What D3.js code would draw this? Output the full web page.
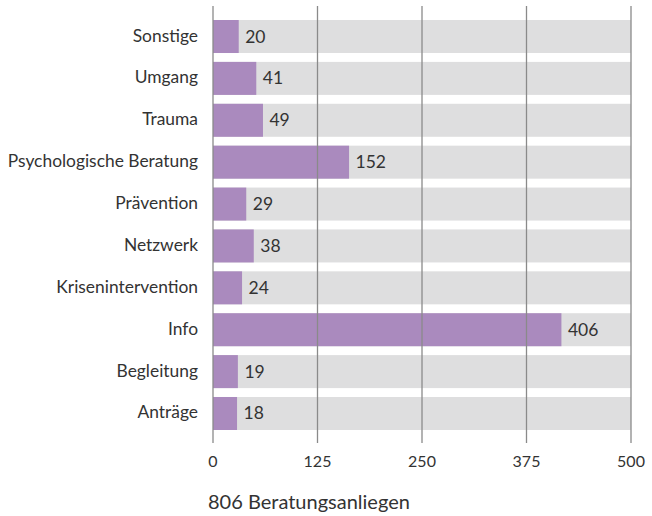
<!DOCTYPE html>
<html>
<head>
<meta charset="utf-8">
<script src="https://cdn.jsdelivr.net/npm/d3@7"></script>
<style>
  body { margin: 0; background: #fff; }
  svg { display: block; font-family: Lato, "Open Sans", sans-serif; }
</style>
</head>
<body>
<svg width="652" height="516"></svg>
<script>
// data
const categories = ["Sonstige", "Umgang", "Trauma", "Psychologische Beratung", "Prävention",
  "Netzwerk", "Krisenintervention", "Info", "Begleitung", "Anträge"]
const values = [20, 41, 49, 152, 29, 38, 24, 406, 19, 18]
const tickValues = [0, 125, 250, 375, 500]
const footnote = "806 Beratungsanliegen"

const svg = d3.select("svg")

const x = d3.scaleLinear()
  .domain([0, 500])
  .range([213, 631])

const y = d3.scaleBand()
  .domain(categories)
  .range([20, 430])
  .paddingInner(0.212)
  .paddingOuter(0)

const barPad = 9 // bars in the original start a little past the zero line

// grey background bars
svg.append("g")
  .selectAll("rect")
  .data(categories)
  .join("rect")
  .attr("x", x(0))
  .attr("y", d => y(d))
  .attr("width", x(500) - x(0))
  .attr("height", y.bandwidth())
  .attr("fill", "#dededf")

// value bars
svg.append("g")
  .selectAll("rect")
  .data(values)
  .join("rect")
  .attr("x", x(0))
  .attr("y", (d, i) => y(categories[i]))
  .attr("width", d => x(d) - x(0) + barPad)
  .attr("height", y.bandwidth())
  .attr("fill", "#aa8abe")

// gridlines
svg.append("g")
  .selectAll("line")
  .data(tickValues)
  .join("line")
  .attr("x1", d => x(d))
  .attr("x2", d => x(d))
  .attr("y1", 6)
  .attr("y2", 443)
  .attr("stroke", "#8a8a8a")
  .attr("stroke-width", 1.3)

// value labels
svg.append("g")
  .selectAll("text")
  .data(values)
  .join("text")
  .attr("x", d => x(d) + barPad + 6.5)
  .attr("y", (d, i) => y(categories[i]) + y.bandwidth() / 2 + 6)
  .attr("font-size", 17.5)
  .attr("fill", "#333")
  .text(d => d)

// category labels
svg.append("g")
  .selectAll("text")
  .data(categories)
  .join("text")
  .attr("x", 198)
  .attr("y", d => y(d) + y.bandwidth() / 2 + 5)
  .attr("text-anchor", "end")
  .attr("font-size", 17.4)
  .attr("fill", "#333")
  .text(d => d)

// tick labels
svg.append("g")
  .selectAll("text")
  .data(tickValues)
  .join("text")
  .attr("x", d => x(d))
  .attr("y", 467)
  .attr("text-anchor", "middle")
  .attr("font-size", 16)
  .attr("fill", "#333")
  .text(d => d)

svg.append("text")
  .attr("x", 208)
  .attr("y", 509)
  .attr("font-size", 20)
  .attr("fill", "#333")
  .text(footnote)
</script>
</body>
</html>
